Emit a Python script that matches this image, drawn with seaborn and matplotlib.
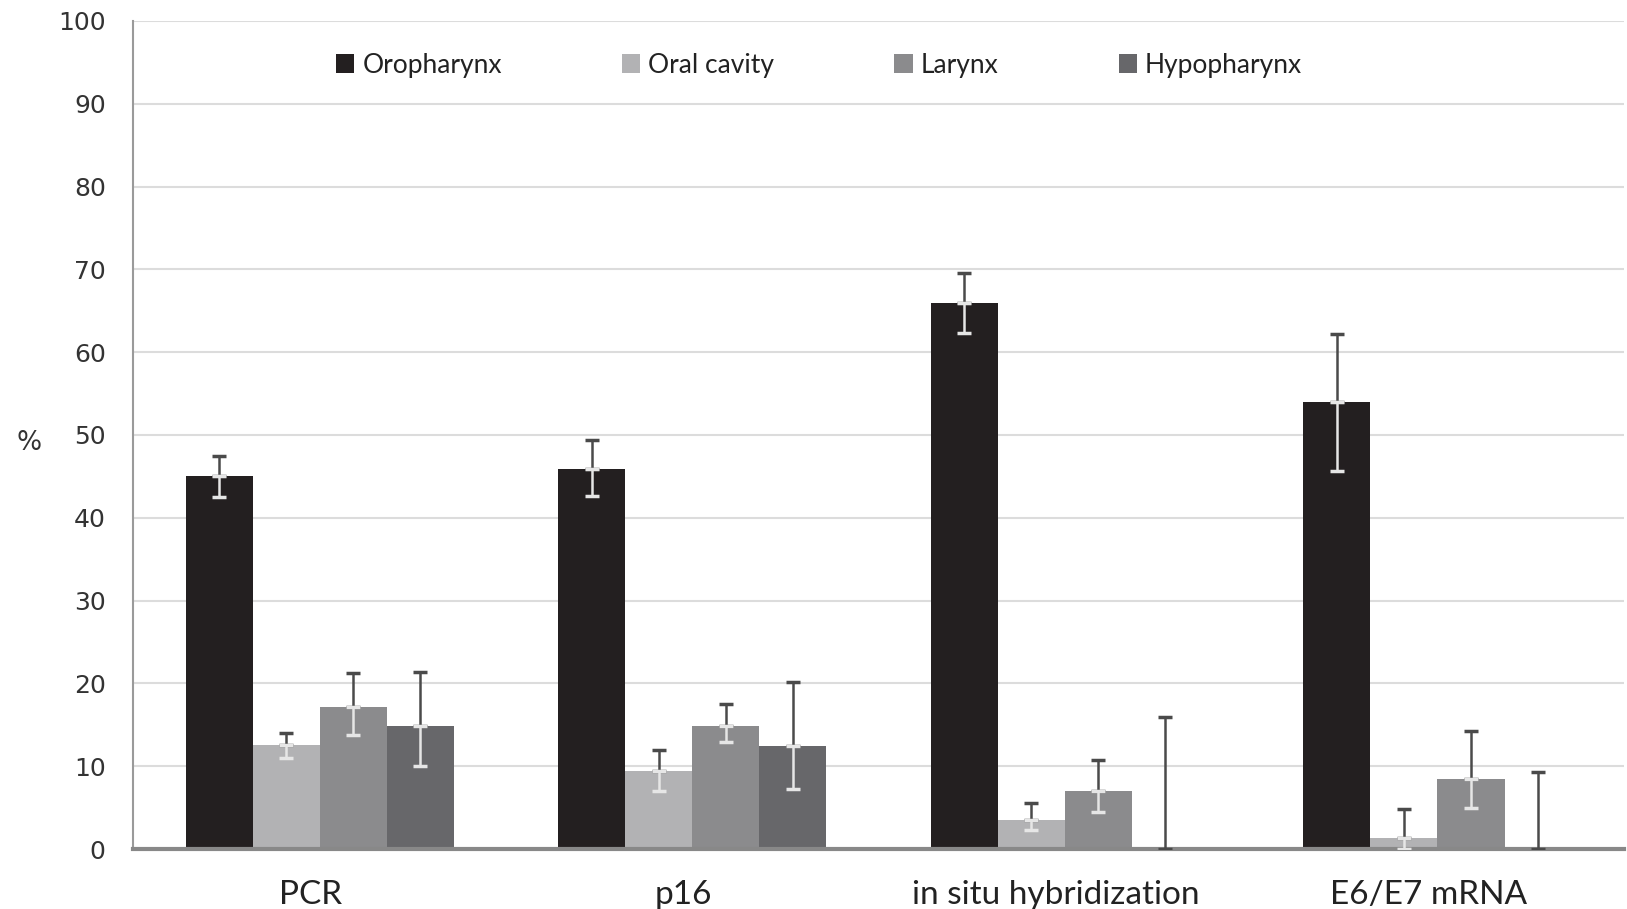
import matplotlib
matplotlib.use("Agg")
import matplotlib.pyplot as plt
import matplotlib.transforms as mtransforms
import seaborn as sns
import pandas as pd
import numpy as np

methods = ["PCR", "p16", "in situ hybridization", "E6/E7 mRNA"]
sites = ["Oropharynx", "Oral cavity", "Larynx", "Hypopharynx"]

oropharynx = [45.0, 45.9, 65.9, 54.0]
oral_cavity = [12.5, 9.4, 3.5, 1.3]
larynx = [17.2, 14.9, 7.0, 8.5]
hypopharynx = [14.9, 12.4, 0.0, 0.0]

oropharynx_lo = [42.5, 42.6, 62.3, 45.7]
oropharynx_hi = [47.5, 49.4, 69.5, 62.2]
oral_cavity_lo = [11.0, 7.0, 2.3, 0.0]
oral_cavity_hi = [14.0, 12.0, 5.6, 4.8]
larynx_lo = [13.8, 12.9, 4.5, 4.9]
larynx_hi = [21.2, 17.5, 10.8, 14.2]
hypopharynx_lo = [10.0, 7.3, 0.0, 0.0]
hypopharynx_hi = [21.4, 20.2, 16.0, 9.3]

colors = ["#231f20", "#b2b2b4", "#8b8b8d", "#67676a"]

values = [oropharynx, oral_cavity, larynx, hypopharynx]
lows = [oropharynx_lo, oral_cavity_lo, larynx_lo, hypopharynx_lo]
highs = [oropharynx_hi, oral_cavity_hi, larynx_hi, hypopharynx_hi]

rows = []
for s, vals in zip(sites, values):
    for m, v in zip(methods, vals):
        rows.append({"method": m, "site": s, "value": v})
df = pd.DataFrame(rows)

sns.set_style("white")
plt.rcParams["font.family"] = ["Lato", "DejaVu Sans"]

fig = plt.figure(figsize=(16.27, 9.09), dpi=100)
ax = fig.add_axes([0.082, 0.066, 0.916, 0.911])

sns.barplot(data=df, x="method", y="value", hue="site", order=methods,
            hue_order=sites, palette=colors, width=0.72, errorbar=None,
            saturation=1, ax=ax, zorder=2, linewidth=0)

for cont, vals, lo, hi in zip(ax.containers, values, lows, highs):
    for bar, v, l, h in zip(cont, vals, lo, hi):
        x = bar.get_x() + bar.get_width() / 2
        ax.errorbar([x], [v], yerr=[[0], [h - v]], fmt="none", ecolor="#4a4a4a",
                    elinewidth=1.8, capsize=5, capthick=2.5, zorder=4)
        if v - l > 0:
            ax.errorbar([x], [v], yerr=[[v - l], [0]], fmt="none", ecolor="#e6e6e6",
                        elinewidth=1.8, capsize=5, capthick=2.5, zorder=4)

ax.set_ylim(0, 100)
ax.set_xlim(-0.5, 3.5)
ax.set_yticks(range(0, 101, 10))
ax.yaxis.grid(True, color="#dcdcdc", linewidth=1.5, zorder=0)
ax.set_axisbelow(True)

for lab in ax.get_yticklabels():
    lab.set_fontfamily("DejaVu Sans")
    lab.set_fontsize(18)
    lab.set_color("#333333")
ax.tick_params(axis="y", length=0, pad=20)
ax.tick_params(axis="x", length=0, pad=22, labelsize=24, labelcolor="#222222")
shift = mtransforms.ScaledTranslation(-0.09, 0, fig.dpi_scale_trans)
for lab in ax.get_xticklabels():
    lab.set_transform(lab.get_transform() + shift)

ax.set_xlabel("")
ax.set_ylabel("%", fontsize=19, rotation=0, family="DejaVu Sans", color="#333333")
ax.yaxis.set_label_coords(-0.07, 0.475)

for side in ["top", "right"]:
    ax.spines[side].set_visible(False)
ax.spines["left"].set_color("#9a9a9a")
ax.spines["left"].set_linewidth(1.5)
ax.spines["bottom"].set_color("#888888")
ax.spines["bottom"].set_linewidth(3)

leg = ax.legend(loc="upper center", bbox_to_anchor=(0.46, 0.99), ncol=4, frameon=False,
                fontsize=19, handlelength=0.7, handleheight=0.7, handletextpad=0.3,
                columnspacing=4.55)
for t in leg.get_texts():
    t.set_color("#222222")

fig.savefig("out.png", dpi=100)
